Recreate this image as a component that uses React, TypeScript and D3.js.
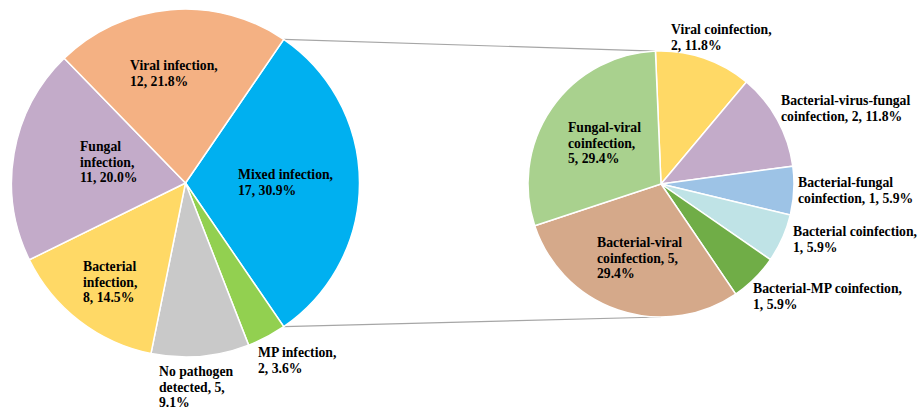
import React from "react";
import * as d3 from "d3";

// ---- data ----
const mainLabels = ["Mixed infection", "MP infection", "No pathogen detected", "Bacterial infection", "Fungal infection", "Viral infection"];
const mainCounts = [17, 2, 5, 8, 11, 12];
const mainPercents = ["30.9%", "3.6%", "9.1%", "14.5%", "20.0%", "21.8%"];

const subLabels = ["Viral coinfection", "Bacterial-virus-fungal coinfection", "Bacterial-fungal coinfection", "Bacterial coinfection", "Bacterial-MP coinfection", "Bacterial-viral coinfection", "Fungal-viral coinfection"];
const subCounts = [2, 2, 1, 1, 1, 5, 5];
const subPercents = ["11.8%", "11.8%", "5.9%", "5.9%", "5.9%", "29.4%", "29.4%"];

// ---- style / layout ----
const mainColors = ["#00B0F0", "#92D050", "#C9C9C9", "#FFD966", "#C3ABC9", "#F4B183"];
const subColors = ["#FFD966", "#C3ABC9", "#9DC3E6", "#BFE3E6", "#70AD47", "#D5A98A", "#A9D18E"];

// wrapped text lines for each label (same text as data, broken as in reference)
const mainLines = [
  ["Mixed infection,", "17, 30.9%"],
  ["MP infection,", "2, 3.6%"],
  ["No pathogen", "detected, 5,", "9.1%"],
  ["Bacterial", "infection,", "8, 14.5%"],
  ["Fungal", "infection,", "11, 20.0%"],
  ["Viral infection,", "12, 21.8%"],
];
const subLines = [
  ["Viral coinfection,", "2, 11.8%"],
  ["Bacterial-virus-fungal", "coinfection, 2, 11.8%"],
  ["Bacterial-fungal", "coinfection, 1, 5.9%"],
  ["Bacterial coinfection,", "1, 5.9%"],
  ["Bacterial-MP coinfection,", "1, 5.9%"],
  ["Bacterial-viral", "coinfection, 5,", "29.4%"],
  ["Fungal-viral", "coinfection,", "5, 29.4%"],
];
const mainLabelPos = [[238, 179], [258, 357], [159, 376], [83, 271], [80, 151], [130, 70]];
const subLabelPos = [[671, 34], [781, 105], [798, 187], [793, 236], [753, 293], [597, 247], [568, 132]];

const W = 919, H = 409;
const C1 = { x: 185.5, y: 183, r: 174 };
const C2 = { x: 661, y: 184, r: 133 };
const SUB_START = (-2.4 * Math.PI) / 180;
const FONT = "'Liberation Serif', 'Times New Roman', serif";
const FS = 13.7;
const LH = 15.5;

export default function App() {
  const total = d3.sum(mainCounts);
  const mixedFrac = mainCounts[0] / total;
  const start1 = Math.PI / 2 - mixedFrac * Math.PI;

  const pie1 = d3.pie<number>().sort(null).value((d) => d).startAngle(start1).endAngle(start1 + 2 * Math.PI);
  const pie2 = d3.pie<number>().sort(null).value((d) => d).startAngle(SUB_START).endAngle(SUB_START + 2 * Math.PI);
  const arcs1 = pie1(mainCounts);
  const arcs2 = pie2(subCounts);
  const arc1 = d3.arc<d3.PieArcDatum<number>>().innerRadius(0).outerRadius(C1.r);
  const arc2 = d3.arc<d3.PieArcDatum<number>>().innerRadius(0).outerRadius(C2.r);

  const pt = (c: { x: number; y: number; r: number }, a: number) => [c.x + c.r * Math.sin(a), c.y - c.r * Math.cos(a)];
  const mixed = arcs1[0];
  const [tx1, ty1] = pt(C1, mixed.startAngle);
  const [bx1, by1] = pt(C1, mixed.endAngle);
  const [tx2, ty2] = pt(C2, SUB_START);
  const [bx2, by2] = pt(C2, Math.PI);

  const renderLabel = (lines: string[], pos: number[], key: string) => (
    <text key={key} x={pos[0]} y={pos[1]} fontFamily={FONT} fontWeight="bold" fontSize={FS} fill="#000">
      {lines.map((l, i) => (
        <tspan key={i} x={pos[0]} y={pos[1] + i * LH}>
          {l}
        </tspan>
      ))}
    </text>
  );

  return (
    <svg width={W} height={H} style={{ position: "absolute", left: 0, top: 0, background: "#fff" }}>
      <line x1={tx1} y1={ty1} x2={tx2} y2={ty2} stroke="#A6A6A6" strokeWidth={1.2} />
      <line x1={bx1} y1={by1} x2={bx2} y2={by2} stroke="#A6A6A6" strokeWidth={1.2} />
      <g transform={`translate(${C1.x},${C1.y})`}>
        {arcs1.map((a, i) => (
          <path key={i} d={arc1(a) || ""} fill={mainColors[i]} stroke="#fff" strokeWidth={1.5} />
        ))}
      </g>
      <g transform={`translate(${C2.x},${C2.y})`}>
        {arcs2.map((a, i) => (
          <path key={i} d={arc2(a) || ""} fill={subColors[i]} stroke="#fff" strokeWidth={1.5} />
        ))}
      </g>
      {mainLabels.map((_, i) => renderLabel(mainLines[i], mainLabelPos[i], "m" + i))}
      {subLabels.map((_, i) => renderLabel(subLines[i], subLabelPos[i], "s" + i))}
    </svg>
  );
}
